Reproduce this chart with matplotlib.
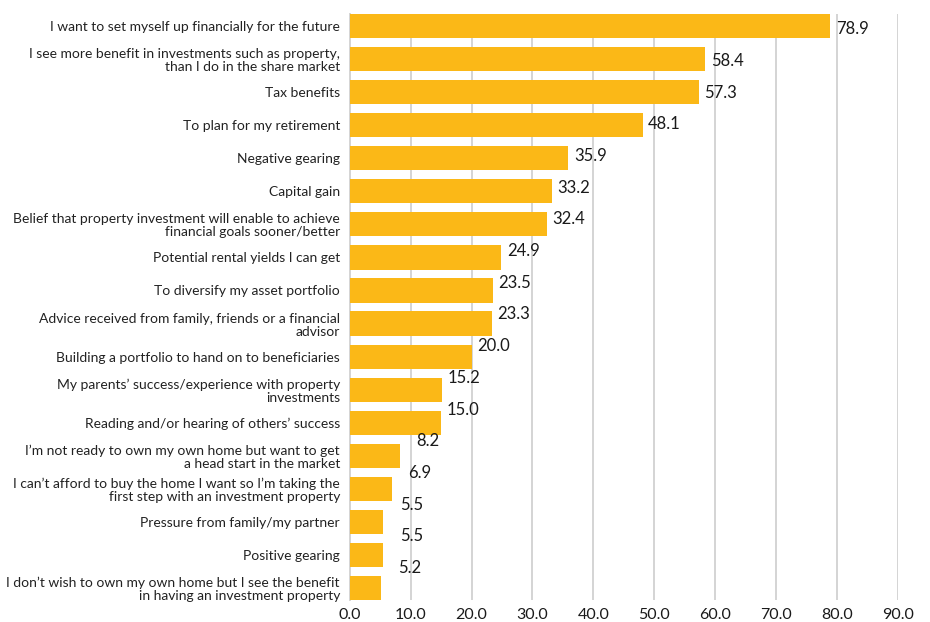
import matplotlib.pyplot as plt
from matplotlib.ticker import FormatStrFormatter

plt.rcParams['font.family'] = ['Lato', 'DejaVu Sans']

# Reasons for investing in property (% of respondents).
reasons = [
    "I want to set myself up financially for the future",
    "I see more benefit in investments such as property,\nthan I do in the share market",
    "Tax benefits",
    "To plan for my retirement",
    "Negative gearing",
    "Capital gain",
    "Belief that property investment will enable to achieve\nfinancial goals sooner/better",
    "Potential rental yields I can get",
    "To diversify my asset portfolio",
    "Advice received from family, friends or a financial\nadvisor",
    "Building a portfolio to hand on to beneficiaries",
    "My parents\u2019 success/experience with property\ninvestments",
    "Reading and/or hearing of others\u2019 success",
    "I\u2019m not ready to own my own home but want to get\na head start in the market",
    "I can\u2019t afford to buy the home I want so I\u2019m taking the\nfirst step with an investment property",
    "Pressure from family/my partner",
    "Positive gearing",
    "I don\u2019t wish to own my own home but I see the benefit\nin having an investment property",
]
values = [78.9, 58.4, 57.3, 48.1, 35.9, 33.2, 32.4, 24.9, 23.5, 23.3,
          20.0, 15.2, 15.0, 8.2, 6.9, 5.5, 5.5, 5.2]

fig = plt.figure(figsize=(9.3, 6.22), dpi=100)
ax = fig.add_axes([0.376, 0.0354, 0.5895, 0.942])

positions = list(range(len(values)))
bar_h = 0.73
ax.barh(positions, values, height=bar_h, color='#FBB817', zorder=3)

# Data labels (in the original they drift slightly off the bars).
for i, v in enumerate(values):
    dx = 12 if v < 10 else 4
    dy = -(3.1 - 1.35 * i) * 0.72
    ax.annotate(f"{v:.1f}", xy=(v, i), xytext=(dx, dy),
                textcoords='offset points', va='center', ha='left',
                fontsize=12, color='#1a1a1a', zorder=4)

ax.set_ylim(len(values) - 1 + bar_h / 2, -bar_h / 2)
ax.set_xlim(0, 90)
ax.set_xticks(range(0, 91, 10))
ax.xaxis.set_major_formatter(FormatStrFormatter('%.1f'))
ax.set_yticks(positions)
ax.set_yticklabels(reasons, fontsize=10, color='#222222', linespacing=1.1)

ax.grid(axis='x', color='#d4d4d4', linewidth=1.4, zorder=0)
for side in ['top', 'right', 'bottom']:
    ax.spines[side].set_visible(False)
ax.spines['left'].set_color('#d4d4d4')
ax.spines['left'].set_linewidth(1.4)

ax.tick_params(axis='both', length=0)
ax.tick_params(axis='x', labelsize=11.5, labelcolor='#1a1a1a', pad=5.5)
ax.tick_params(axis='y', pad=7)

fig.savefig('out.png', dpi=100)
